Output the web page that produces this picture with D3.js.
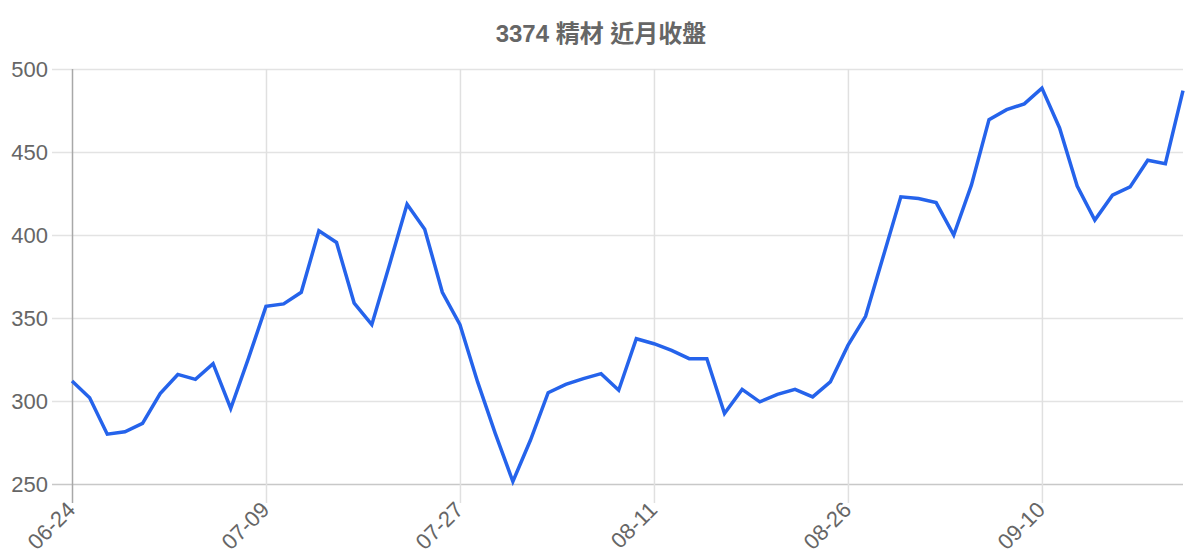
<!DOCTYPE html>
<html>
<head>
<meta charset="utf-8">
<script src="https://cdn.jsdelivr.net/npm/d3@7"></script>
<style>
  html, body { margin: 0; padding: 0; background: #fff; }
  svg { display: block; font-family: "Liberation Sans", Arial, Helvetica, "Noto Sans CJK TC", sans-serif; }
</style>
</head>
<body>
<div id="chart"></div>
<script>
// closing price, one entry per trading day
const titleText = "3374 精材 近月收盤";

const dates = [
    "06-24", "06-25", "06-26", "06-27", "06-28", "07-01", "07-02", "07-03", "07-04", "07-05", "07-08",
    "07-09", "07-10", "07-11", "07-12", "07-15", "07-16", "07-17", "07-18", "07-19", "07-22", "07-23",
    "07-27", "07-29", "07-30", "07-31", "08-01", "08-02", "08-05", "08-06", "08-07", "08-08", "08-09",
    "08-11", "08-12", "08-13", "08-14", "08-15", "08-16", "08-19", "08-20", "08-21", "08-22", "08-23",
    "08-26", "08-27", "08-28", "08-29", "08-30", "09-02", "09-03", "09-04", "09-05", "09-06", "09-09",
    "09-10", "09-11", "09-12", "09-13", "09-16", "09-18", "09-19", "09-20", "09-23"
];

const closes = [
    312, 302, 280, 281.5, 286.5, 304.5, 316, 313, 322.5, 295.5, 325.5,
    357, 358.5, 365.5, 402.5, 395.5, 359, 346, 382, 418.5, 403.5, 365.5,
    346, 311.5, 280.5, 251.5, 276.5, 305, 310, 313.5, 316.5, 306.5, 337.5,
    334.5, 330.5, 325.5, 325.5, 292.5, 307, 299.5, 304, 307, 302.5, 311.5,
    333.5, 351, 387, 423, 422, 419.5, 400, 430, 469.5, 475.5, 479,
    488.5, 464.5, 429.5, 409, 424, 429, 445, 443, 487
];

const yTicks = [250, 300, 350, 400, 450, 500];
const labelEvery = 11;

const width = 1200;
const height = 560;
const margin = { top: 69, right: 17, bottom: 76, left: 72 };

const svg = d3.select("#chart")
    .append("svg")
    .attr("width", width)
    .attr("height", height);

const x = d3.scalePoint()
    .domain(d3.range(dates.length))
    .range([margin.left, width - margin.right]);

const y = d3.scaleLinear()
    .domain([250, 500])
    .range([height - margin.bottom, margin.top]);

const shownIdx = d3.range(0, dates.length, labelEvery);

// Title
svg.append("text")
    .attr("x", 601)
    .attr("y", 36)
    .attr("text-anchor", "middle")
    .attr("dominant-baseline", "middle")
    .style("font-size", "24px")
    .style("font-weight", "bold")
    .style("fill", "#666")
    .text(titleText);

// Horizontal grid + y ticks
const yAxis = d3.axisLeft(y)
    .tickValues(yTicks)
    .tickSize(-(width - margin.left - margin.right + 20))
    .tickPadding(4);

const yG = svg.append("g")
    .attr("transform", `translate(${width - margin.right},0)`)
    .call(yAxis);
yG.select(".domain").remove();
yG.selectAll(".tick line")
    .attr("x1", 0)
    .attr("x2", -(width - margin.right - margin.left + 20))
    .style("stroke", d => d === 250 ? "#c8c8c8" : "#e3e3e3")
    .style("stroke-width", 1.5);
yG.selectAll(".tick text")
    .attr("x", -(width - margin.right - 48))
    .attr("text-anchor", "end")
    .style("font-size", "22px")
    .style("fill", "#666");

// Vertical grid + x ticks
const xAxis = d3.axisBottom(x)
    .tickValues(shownIdx)
    .tickFormat(i => dates[i])
    .tickSize(height - margin.bottom - margin.top + 19)
    .tickPadding(0);

const xG = svg.append("g")
    .attr("transform", `translate(0,${margin.top})`)
    .call(xAxis);
xG.select(".domain").remove();
xG.selectAll(".tick line")
    .style("stroke", i => i === 0 ? "#a8a8a8" : "#e0e0e0")
    .style("stroke-width", 1.5);
xG.selectAll(".tick text")
    .attr("y", 0)
    .attr("dy", 0)
    .attr("text-anchor", "end")
    .attr("transform", `translate(0,${height - margin.bottom - margin.top + 23}) rotate(-45)`)
    .attr("dominant-baseline", "middle")
    .style("font-size", "22px")
    .style("fill", "#666");

// Price line
const line = d3.line()
    .x((d, i) => x(i))
    .y(d => y(d));

svg.append("path")
    .datum(closes)
    .attr("fill", "none")
    .attr("stroke", "#2563eb")
    .attr("stroke-width", 3.5)
    .attr("stroke-linejoin", "miter")
    .attr("d", line);
</script>
</body>
</html>
